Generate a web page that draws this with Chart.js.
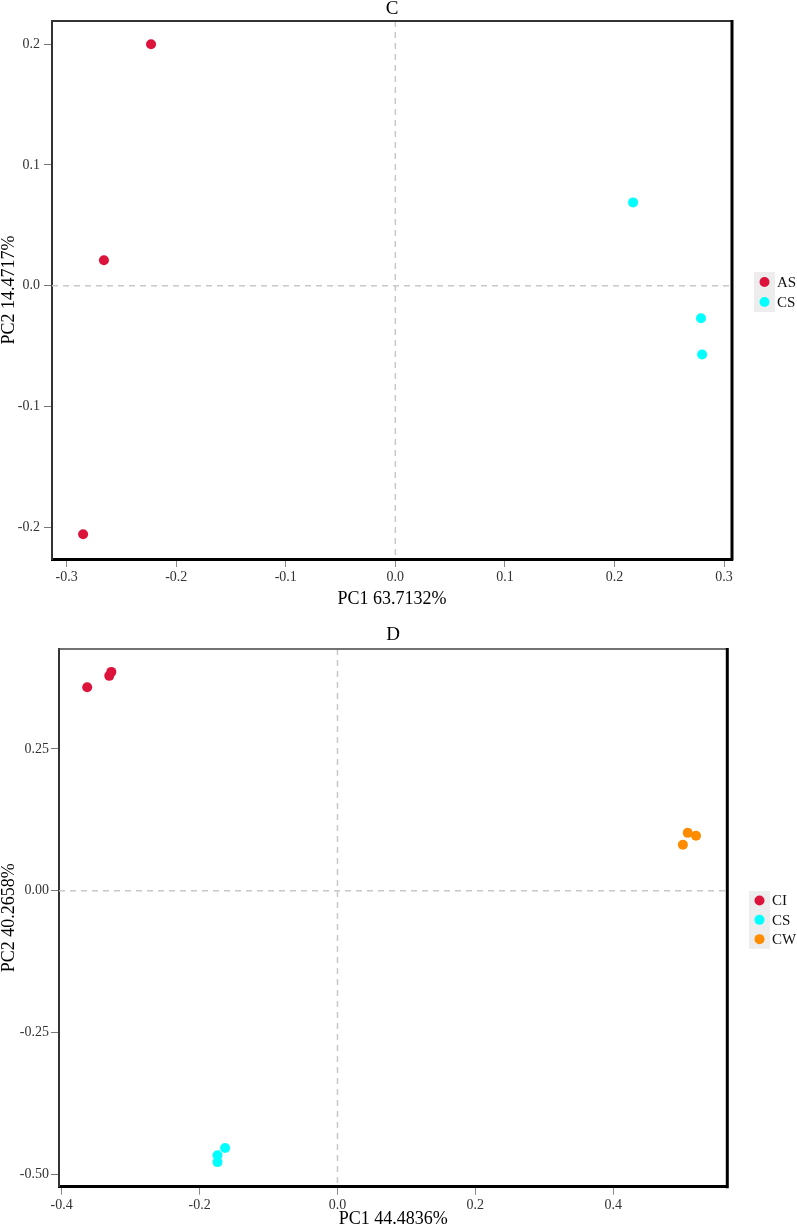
<!DOCTYPE html>
<html><head><meta charset="utf-8">
<script src="https://cdn.jsdelivr.net/npm/chart.js@4.4.1/dist/chart.umd.min.js"></script>
<style>
html,body{margin:0;padding:0;background:#fff;}
#wrap{position:relative;width:797px;height:1226px;overflow:hidden;background:#fff;}
canvas{position:absolute;left:0;}
#c1{top:0;} #c2{top:600px;}
</style></head><body>
<div id="wrap"><canvas id="c1" width="797" height="615"></canvas><canvas id="c2" width="797" height="626"></canvas></div>
<script>
// ---- Panel C data ----
const cGroups = ['AS', 'CS'];
const cColors = ['#DC143C', '#00FFFF'];
const cASx = [-0.223, -0.266, -0.285];
const cASy = [0.200, 0.021, -0.206];
const cCSx = [0.217, 0.279, 0.280];
const cCSy = [0.069, -0.027, -0.057];
const cXTicks = [-0.3, -0.2, -0.1, 0.0, 0.1, 0.2, 0.3];
const cXLabels = ['-0.3', '-0.2', '-0.1', '0.0', '0.1', '0.2', '0.3'];
const cYTicks = [-0.2, -0.1, 0.0, 0.1, 0.2];
const cYLabels = ['-0.2', '-0.1', '0.0', '0.1', '0.2'];
const cXRange = [-0.3134, 0.3073];
const cYRange = [-0.2265, 0.2193];
const cTitle = 'C', cXTitle = 'PC1 63.7132%', cYTitle = 'PC2 14.4717%';

// ---- Panel D data ----
const dGroups = ['CI', 'CS', 'CW'];
const dColors = ['#DC143C', '#00FFFF', '#FF8C00'];
const dCIx = [-0.363, -0.331, -0.328];
const dCIy = [0.359, 0.379, 0.386];
const dCSx = [-0.163, -0.174, -0.174];
const dCSy = [-0.454, -0.467, -0.479];
const dCWx = [0.508, 0.520, 0.501];
const dCWy = [0.102, 0.097, 0.081];
const dXTicks = [-0.4, -0.2, 0.0, 0.2, 0.4];
const dXLabels = ['-0.4', '-0.2', '0.0', '0.2', '0.4'];
const dYTicks = [-0.50, -0.25, 0.00, 0.25];
const dYLabels = ['-0.50', '-0.25', '0.00', '0.25'];
const dXRange = [-0.4039, 0.5654];
const dYRange = [-0.5224, 0.4264];
const dTitle = 'D', dXTitle = 'PC1 44.4836%', dYTitle = 'PC2 40.2658%';

const FONT = '"Liberation Serif", "Times New Roman", serif';
function pts(xs, ys) { return xs.map((x, i) => ({ x: x, y: ys[i] })); }

function build(id, cfg) {
  const deco = {
    id: 'deco',
    beforeDatasetsDraw(chart) {
      const { ctx, chartArea: a, scales: { x, y } } = chart;
      const x0 = x.getPixelForValue(0), y0 = y.getPixelForValue(0);
      ctx.save();
      ctx.strokeStyle = '#C8C8C8'; ctx.lineWidth = 1.5; ctx.setLineDash([6, 5]);
      ctx.beginPath();
      ctx.moveTo(x0, a.top); ctx.lineTo(x0, a.bottom);
      ctx.moveTo(a.left, y0); ctx.lineTo(a.right, y0);
      ctx.stroke();
      ctx.restore();
    },
    afterDraw(chart) {
      const { ctx, chartArea: a } = chart;
      ctx.save();
      ctx.setLineDash([]);
      ctx.strokeStyle = cfg.topBorderColor; ctx.lineWidth = cfg.topBorderWidth;
      ctx.beginPath(); ctx.moveTo(a.left - 1, a.top); ctx.lineTo(a.right, a.top); ctx.stroke();
      ctx.strokeStyle = '#000'; ctx.lineWidth = 3;
      ctx.beginPath(); ctx.moveTo(a.right, a.top - 1); ctx.lineTo(a.right, a.bottom + 1.5); ctx.stroke();

      const cx = (a.left + a.right) / 2;
      ctx.fillStyle = '#000'; ctx.textAlign = 'center'; ctx.textBaseline = 'middle';
      ctx.font = '19px ' + FONT;
      ctx.fillText(cfg.title, cx, cfg.titleY);
      ctx.font = '18px ' + FONT;
      ctx.fillText(cfg.xTitle, cx, cfg.xTitleY);
      ctx.save();
      ctx.translate(cfg.yTitleX, (a.top + a.bottom) / 2);
      ctx.rotate(-Math.PI / 2);
      ctx.fillText(cfg.yTitle, 0, 0);
      ctx.restore();

      const ds = chart.data.datasets;
      const h = cfg.legendItemH;
      const top = (a.top + a.bottom) / 2 - ds.length * h / 2 + cfg.legendDy;
      ctx.fillStyle = '#EDEDED';
      ctx.fillRect(cfg.legendX, top, cfg.legendBoxW, ds.length * h);
      ds.forEach((d, i) => {
        const cy = top + h * (i + 0.5);
        ctx.fillStyle = d.backgroundColor;
        ctx.beginPath(); ctx.arc(cfg.legendX + cfg.legendBoxW / 2, cy, 5, 0, Math.PI * 2); ctx.fill();
        ctx.fillStyle = '#111'; ctx.font = '15px ' + FONT; ctx.textAlign = 'left'; ctx.textBaseline = 'middle';
        ctx.fillText(d.label, cfg.legendX + cfg.legendBoxW + 2, cy + 1);
      });
      ctx.restore();
    }
  };

  return new Chart(document.getElementById(id), {
    type: 'scatter',
    data: {
      datasets: cfg.series.map((s, i) => ({
        label: s.label,
        data: pts(s.x, s.y),
        backgroundColor: s.color,
        borderColor: s.color,
        borderWidth: 0,
        pointRadius: 5,
        pointHoverRadius: 5
      }))
    },
    options: {
      responsive: false,
      animation: false,
      devicePixelRatio: 1,
      layout: { padding: { left: 0, top: cfg.padTop, right: cfg.padRight, bottom: 0 } },
      plugins: { legend: { display: false }, tooltip: { enabled: false }, title: { display: false } },
      scales: {
        x: {
          type: 'linear', position: 'bottom',
          min: cfg.xRange[0], max: cfg.xRange[1],
          afterFit: s => { s.height = cfg.xH; },
          afterBuildTicks: s => { s.ticks = cfg.xTicks.map(v => ({ value: v })); },
          ticks: { callback: (v, i) => cfg.xLabels[i], color: '#333', font: { family: FONT, size: 14 }, padding: 2, maxRotation: 0, autoSkip: false },
          grid: { display: true, drawOnChartArea: false, drawTicks: true, tickLength: 8, color: '#888', lineWidth: 1 },
          border: { display: true, color: '#000', width: 3 }
        },
        y: {
          type: 'linear', position: 'left',
          min: cfg.yRange[0], max: cfg.yRange[1],
          afterFit: s => { s.width = cfg.yW; },
          afterBuildTicks: s => { s.ticks = cfg.yTicks.map(v => ({ value: v })); },
          ticks: { callback: (v, i) => cfg.yLabels[i], color: '#333', font: { family: FONT, size: 14 }, padding: cfg.yPad, autoSkip: false },
          grid: { display: true, drawOnChartArea: false, drawTicks: true, tickLength: 8, color: '#777', lineWidth: 1 },
          border: { display: true, color: '#333', width: 2 }
        }
      }
    },
    plugins: [deco]
  });
}

build('c1', {
  series: [
    { label: cGroups[0], color: cColors[0], x: cASx, y: cASy },
    { label: cGroups[1], color: cColors[1], x: cCSx, y: cCSy }
  ],
  xRange: cXRange, yRange: cYRange,
  xTicks: cXTicks, xLabels: cXLabels, yTicks: cYTicks, yLabels: cYLabels,
  title: cTitle, xTitle: cXTitle, yTitle: cYTitle,
  padTop: 21, padRight: 65, xH: 56, yW: 52, yPad: 4,
  topBorderColor: '#333', topBorderWidth: 2,
  titleY: 9, xTitleY: 599, yTitleX: 9,
  legendX: 754, legendBoxW: 21, legendItemH: 20, legendDy: 2
});

build('c2', {
  series: [
    { label: dGroups[0], color: dColors[0], x: dCIx, y: dCIy },
    { label: dGroups[1], color: dColors[1], x: dCSx, y: dCSy },
    { label: dGroups[2], color: dColors[2], x: dCWx, y: dCWy }
  ],
  xRange: dXRange, yRange: dYRange,
  xTicks: dXTicks, xLabels: dXLabels, yTicks: dYTicks, yLabels: dYLabels,
  title: dTitle, xTitle: dXTitle, yTitle: dYTitle,
  padTop: 49, padRight: 69.7, xH: 39.3, yW: 59, yPad: 2,
  topBorderColor: '#444', topBorderWidth: 1.5,
  titleY: 35.5, xTitleY: 619, yTitleX: 9,
  legendX: 749, legendBoxW: 21, legendItemH: 19.3, legendDy: 2
});
</script>
</body></html>
